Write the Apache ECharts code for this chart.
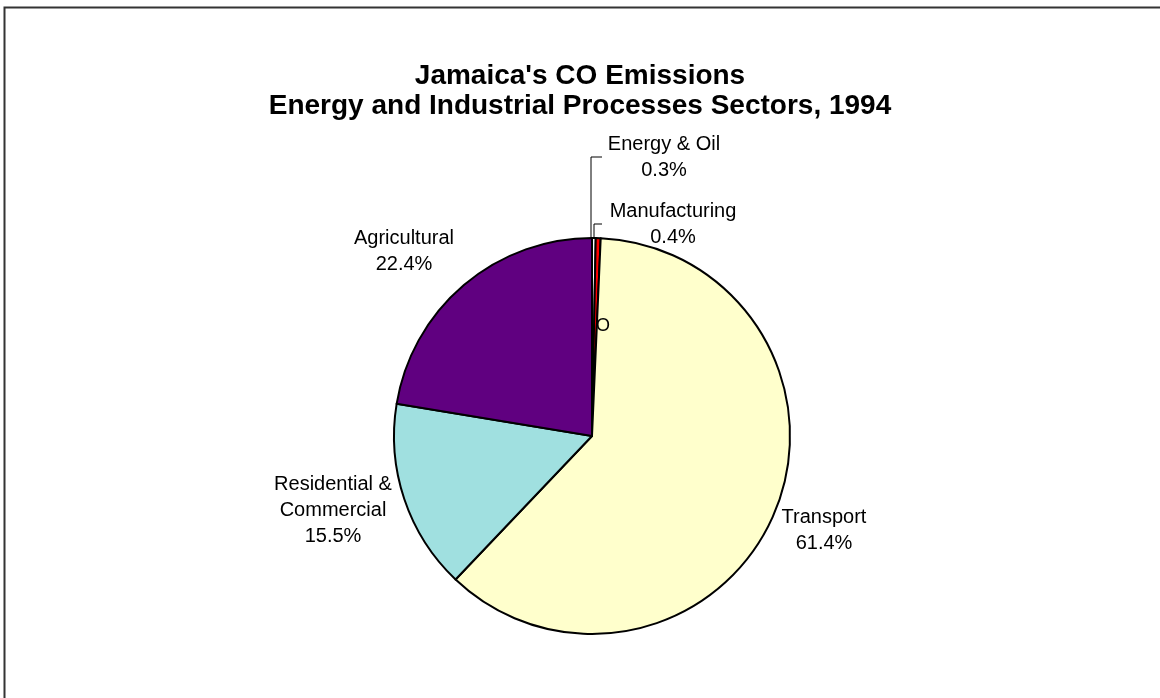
<!DOCTYPE html>
<html>
<head>
<meta charset="utf-8">
<script src="https://cdn.jsdelivr.net/npm/echarts@6/dist/echarts.min.js"></script>
<style>html,body{margin:0;padding:0;background:#fff;}#c{width:1160px;height:698px;}</style>
</head>
<body>
<div id="c"></div>
<script>
var categories = ['Energy & Oil', 'Manufacturing', 'Transport', 'Residential & Commercial', 'Agricultural'];
var shares = [0.3, 0.4, 61.4, 15.5, 22.4];
var sliceColors = ['#FFFFFF', '#FF0000', '#FFFFCC', '#A0E0E0', '#600080'];

var labelPos = [
  {x: 664, y: 157, line: [[591, 240], [591, 157], [602, 157]]},
  {x: 673, y: 224, line: [[594, 240], [594, 224], [602, 224]]},
  {x: 824, y: 530},
  {x: 333, y: 510},
  {x: 404, y: 251}
];

var chart = echarts.init(document.getElementById('c'));
chart.setOption({
  backgroundColor: '#fff',
  animation: false,
  title: {
    text: "Jamaica's CO Emissions\nEnergy and Industrial Processes Sectors, 1994",
    left: 'center',
    top: 56,
    textStyle: {fontFamily: 'Liberation Sans, Arial', fontWeight: 'bold', fontSize: 28, lineHeight: 30, color: '#000'}
  },
  graphic: [
    {type: 'rect', z: 0, shape: {x: 4.5, y: 7.5, width: 1300, height: 900}, style: {fill: 'none', stroke: '#333', lineWidth: 2}, silent: true},
    {type: 'text', z: 100, left: 596, top: 317, style: {text: 'O', fontFamily: 'Liberation Sans, Arial', fontSize: 18, fill: '#000'}}
  ],
  series: [{
    type: 'pie',
    center: [592, 436],
    radius: 198,
    startAngle: 90,
    clockwise: true,
    avoidLabelOverlap: false,
    data: categories.map(function (n, i) {
      return {
        name: n,
        value: shares[i],
        itemStyle: {color: sliceColors[i]},
        labelLine: {show: i < 2}
      };
    }),
    itemStyle: {borderColor: '#000', borderWidth: 2},
    label: {
      show: true,
      position: 'outside',
      fontFamily: 'Liberation Sans, Arial',
      fontSize: 20,
      lineHeight: 26,
      color: '#000',
      align: 'center',
      formatter: function (p) {
        return p.name.replace('& Commercial', '&\nCommercial') + '\n' + p.value.toFixed(1) + '%';
      }
    },
    labelLine: {lineStyle: {color: '#000', width: 1}},
    labelLayout: function (params) {
      var p = labelPos[params.dataIndex];
      var r = {x: p.x, y: p.y, align: 'center', verticalAlign: 'middle'};
      if (p.line) r.labelLinePoints = p.line;
      return r;
    }
  }]
});
</script>
</body>
</html>
